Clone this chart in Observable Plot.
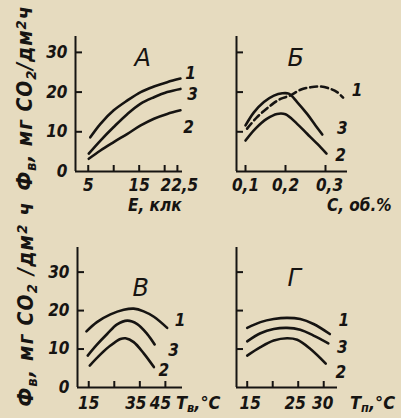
<!DOCTYPE html>
<html><head><meta charset="utf-8">
<script src="https://cdn.jsdelivr.net/npm/d3@7"></script>
<script src="https://cdn.jsdelivr.net/npm/@observablehq/plot@0.6"></script>
<style>
body{margin:0;background:#e6dbbf;}
#fig{position:relative;width:401px;height:418px;background:#e6dbbf;overflow:hidden;
 font-family:"DejaVu Sans Condensed","DejaVu Sans",sans-serif;font-style:oblique;font-weight:bold;color:#161412;}
#fig svg{position:absolute;left:0;top:0;}
.lbl{position:absolute;white-space:nowrap;line-height:1;}
.lbl sub{font-size:70%;vertical-align:-0.25em;}
.lbl sup{font-size:70%;vertical-align:0.45em;}
.rot{transform:translate(-50%,-50%) rotate(-90deg);font-size:21px;}
</style></head><body><div id="fig"></div>
<script>
// ---------- data ----------
const curveNames = ["1", "3", "2"];
// Panel A: photosynthesis vs illuminance E, klx
const a1x = [5.4, 7.4, 10, 12.7, 15.3, 17.9, 20.5, 23.1];
const a1y = [8.6, 12.0, 15.4, 17.9, 20.0, 21.4, 22.5, 23.4];
const a3x = [5.1, 7.4, 10, 12.7, 15.3, 17.9, 20.5, 23.1];
const a3y = [4.5, 7.8, 11.2, 14.5, 17.1, 18.7, 20.0, 20.8];
const a2x = [5.1, 7.4, 10, 12.7, 15.3, 17.9, 20.5, 23.1];
const a2y = [3.2, 5.3, 7.4, 9.5, 11.6, 13.3, 14.5, 15.4];
// Panel Б: vs CO2 concentration C, vol.%
const b1x = [0.104, 0.129, 0.1625, 0.1875, 0.211, 0.2375, 0.2625, 0.2875, 0.3125, 0.329, 0.344];
const b1y = [10.8, 13.7, 16.6, 18.3, 19.1, 20.6, 21.2, 21.4, 20.8, 20.0, 18.6];
const b3x = [0.1, 0.121, 0.146, 0.171, 0.192, 0.208, 0.229, 0.254, 0.275, 0.292];
const b3y = [11.6, 14.9, 17.5, 19.1, 19.7, 19.6, 17.5, 14.5, 11.6, 9.3];
const b2x = [0.1, 0.125, 0.154, 0.179, 0.2, 0.229, 0.254, 0.279, 0.3025];
const b2y = [7.8, 10.8, 13.3, 14.5, 14.4, 12.0, 9.5, 7.0, 4.5];
// Panel В: vs air temperature Tв, °C
const v1x = [14.1, 18.2, 23.5, 28.7, 32.6, 36.5, 40.5, 45.7];
const v1y = [14.6, 17.0, 19.0, 20.2, 20.5, 19.8, 18.4, 15.5];
const v3x = [14.6, 18.3, 22.2, 26.1, 30.1, 34.0, 37.9, 40.8];
const v3y = [8.3, 11.2, 13.9, 16.4, 17.4, 16.5, 13.9, 11.2];
const v2x = [15.4, 19.6, 23.5, 27.4, 29.4, 32.6, 36.6, 40.5];
const v2y = [5.7, 8.6, 10.9, 12.6, 12.8, 11.8, 8.8, 5.3];
// Panel Г: vs soil temperature Tп, °C
const g1x = [15, 17.6, 20.2, 22.8, 25.4, 28.0, 31.2];
const g1y = [15.5, 17.0, 17.8, 18.1, 17.8, 16.5, 13.9];
const g3x = [15, 17.6, 20.2, 22.8, 25.4, 28.0, 30.9];
const g3y = [12.0, 14.1, 15.2, 15.5, 15.0, 13.5, 11.5];
const g2x = [15, 17.6, 20.2, 22.8, 24.8, 27.4, 30.4];
const g2y = [8.3, 10.5, 12.2, 12.8, 12.4, 10.0, 6.2];
// ticks
const yTicks = [10, 20, 30];
const yTickLabels = [0, 10, 20, 30];
const aTicks = [5, 10, 15, 20, 22.5], aLabels = [5, 15, 22.5];
const bTicks = [0.1, 0.2, 0.3], bLabels = [0.1, 0.2, 0.3];
const vTicks = [15, 25, 35, 45], vLabels = [15, 35, 45];
const gTicks = [15, 20, 25, 30], gLabels = [15, 25, 30];

// ---------- layout / style ----------
const ink = "#161412";
const W = 401, H = 418;
const FONT = "DejaVu Sans Condensed, DejaVu Sans, sans-serif";
const fmt = d => String(d).replace(".", ",");

const panels = [
  {title: "А", xDomain: [2.5, 23.5], xRange: [75, 182], yDomain: [0, 34], yRange: [171, 36],
   series: [[a1x, a1y], [a3x, a3y], [a2x, a2y]], dashed: [false, false, false],
   labOff: [[10, -5], [12, 6], [8, 17]], ticks: aTicks, labels: aLabels, labDx: [0, 0, 2], labDy: 14,
   yLabels: true, titleOff: [59, 12]},
  {title: "Б", xDomain: [0.0775, 0.355], xRange: [236, 347], yDomain: [0, 34], yRange: [171, 36],
   series: [[b1x, b1y], [b3x, b3y], [b2x, b2y]], dashed: [true, false, false],
   labOff: [[14, -7], [20, -6], [14, 2]], ticks: bTicks, labels: bLabels, labDx: [0, 0, 4], labDy: 14,
   yLabels: false, titleOff: [51, 12]},
  {title: "В", xDomain: [10.6, 51.7], xRange: [77, 182], yDomain: [0, 36.4], yRange: [387, 247],
   series: [[v1x, v1y], [v3x, v3y], [v2x, v2y]], dashed: [false, false, false],
   labOff: [[13, -7], [19, 6], [10, 3]], ticks: vTicks, labels: vLabels, labDx: [0, -4, -5], labDy: 16,
   yLabels: true, titleOff: [55, 31]},
  {title: "Г", xDomain: [12.9, 32.7], xRange: [236, 337], yDomain: [0, 36.4], yRange: [387, 247],
   series: [[g1x, g1y], [g3x, g3y], [g2x, g2y]], dashed: [false, false, false],
   labOff: [[14, -13], [14, 4], [15, 9]], ticks: gTicks, labels: gLabels, labDx: [3, -3, -1], labDy: 16,
   yLabels: false, titleOff: [51, 21]}
];

const fig = document.getElementById("fig");

for (const p of panels) {
  const [x0, x1] = p.xDomain, [y0, y1] = p.yDomain;
  const kx = (p.xRange[1] - p.xRange[0]) / (x1 - x0);
  const ky = (p.yRange[0] - p.yRange[1]) / (y1 - y0);
  const marks = [
    Plot.ruleX([x0], {y1: y0, y2: y1, stroke: ink, strokeWidth: 2}),
    Plot.ruleY([y0], {x1: x0, x2: x1, stroke: ink, strokeWidth: 2}),
    Plot.ruleX(p.ticks, {x: d => d, y1: y0, y2: y0 + 6 / ky, stroke: ink, strokeWidth: 2}),
    Plot.ruleY(yTicks, {y: d => d, x1: x0, x2: x0 + 7 / kx, stroke: ink, strokeWidth: 2}),
    Plot.text([p.title], {frameAnchor: "top-left", text: d => d, dx: p.titleOff[0], dy: p.titleOff[1],
      fill: ink, fontFamily: "DejaVu Sans, sans-serif", fontSize: 24, fontStyle: "oblique", fontWeight: "normal"})
  ];
  p.labels.forEach((v, i) => {
    marks.push(Plot.text([v], {x: d => d, y: y0, text: d => fmt(d), dy: p.labDy, dx: p.labDx[i], fill: ink,
      fontFamily: FONT, fontSize: 17, fontStyle: "oblique", fontWeight: "bold"}));
  });
  if (p.yLabels) {
    marks.push(Plot.text(yTickLabels, {x: x0, y: d => d, text: d => String(d), dx: -8, textAnchor: "end",
      fill: ink, fontFamily: FONT, fontSize: 17, fontStyle: "oblique", fontWeight: "bold"}));
  }
  p.series.forEach(([xs, ys], i) => {
    const rows = xs.map((x, j) => ({x, y: ys[j]}));
    marks.push(Plot.line(rows, {x: "x", y: "y", curve: "catmull-rom", stroke: ink, strokeWidth: 2.6,
      strokeDasharray: p.dashed[i] ? "7,4" : null, strokeLinecap: "round"}));
    const last = rows[rows.length - 1];
    marks.push(Plot.text([last], {x: "x", y: "y", text: () => curveNames[i], dx: p.labOff[i][0], dy: p.labOff[i][1],
      fill: ink, fontFamily: FONT, fontSize: 17, fontStyle: "oblique", fontWeight: "bold"}));
  });
  const svg = Plot.plot({
    width: W, height: H,
    marginLeft: p.xRange[0], marginRight: W - p.xRange[1],
    marginTop: p.yRange[1], marginBottom: H - p.yRange[0],
    x: {domain: p.xDomain, axis: null},
    y: {domain: p.yDomain, axis: null},
    style: {background: "transparent", overflow: "visible"},
    marks
  });
  fig.appendChild(svg);
}

// axis titles (HTML text with sub/superscripts)
function label(html, left, top, cls, extra) {
  const d = document.createElement("div");
  d.className = "lbl " + (cls || "");
  d.innerHTML = html;
  d.style.left = left + "px"; d.style.top = top + "px";
  if (extra) Object.assign(d.style, extra);
  fig.appendChild(d);
}
label("Ф<sub>в</sub>, мг CO<sub>2</sub>/дм<sup>2</sup>ч", 26, 98, "rot", {letterSpacing: "0.9px"});
label("Ф<sub>в</sub>, мг CO<sub>2</sub> /дм<sup>2</sup> ч", 27, 304, "rot", {letterSpacing: "1.2px"});
label("E, клк", 128, 197, "", {fontSize: "17px"});
label("C, об.%", 327, 197, "", {fontSize: "17px"});
label("T<sub>в</sub>,°C", 176, 394, "", {fontSize: "18px"});
label("T<sub>п</sub>,°C", 350, 394, "", {fontSize: "18px"});
</script></body></html>
